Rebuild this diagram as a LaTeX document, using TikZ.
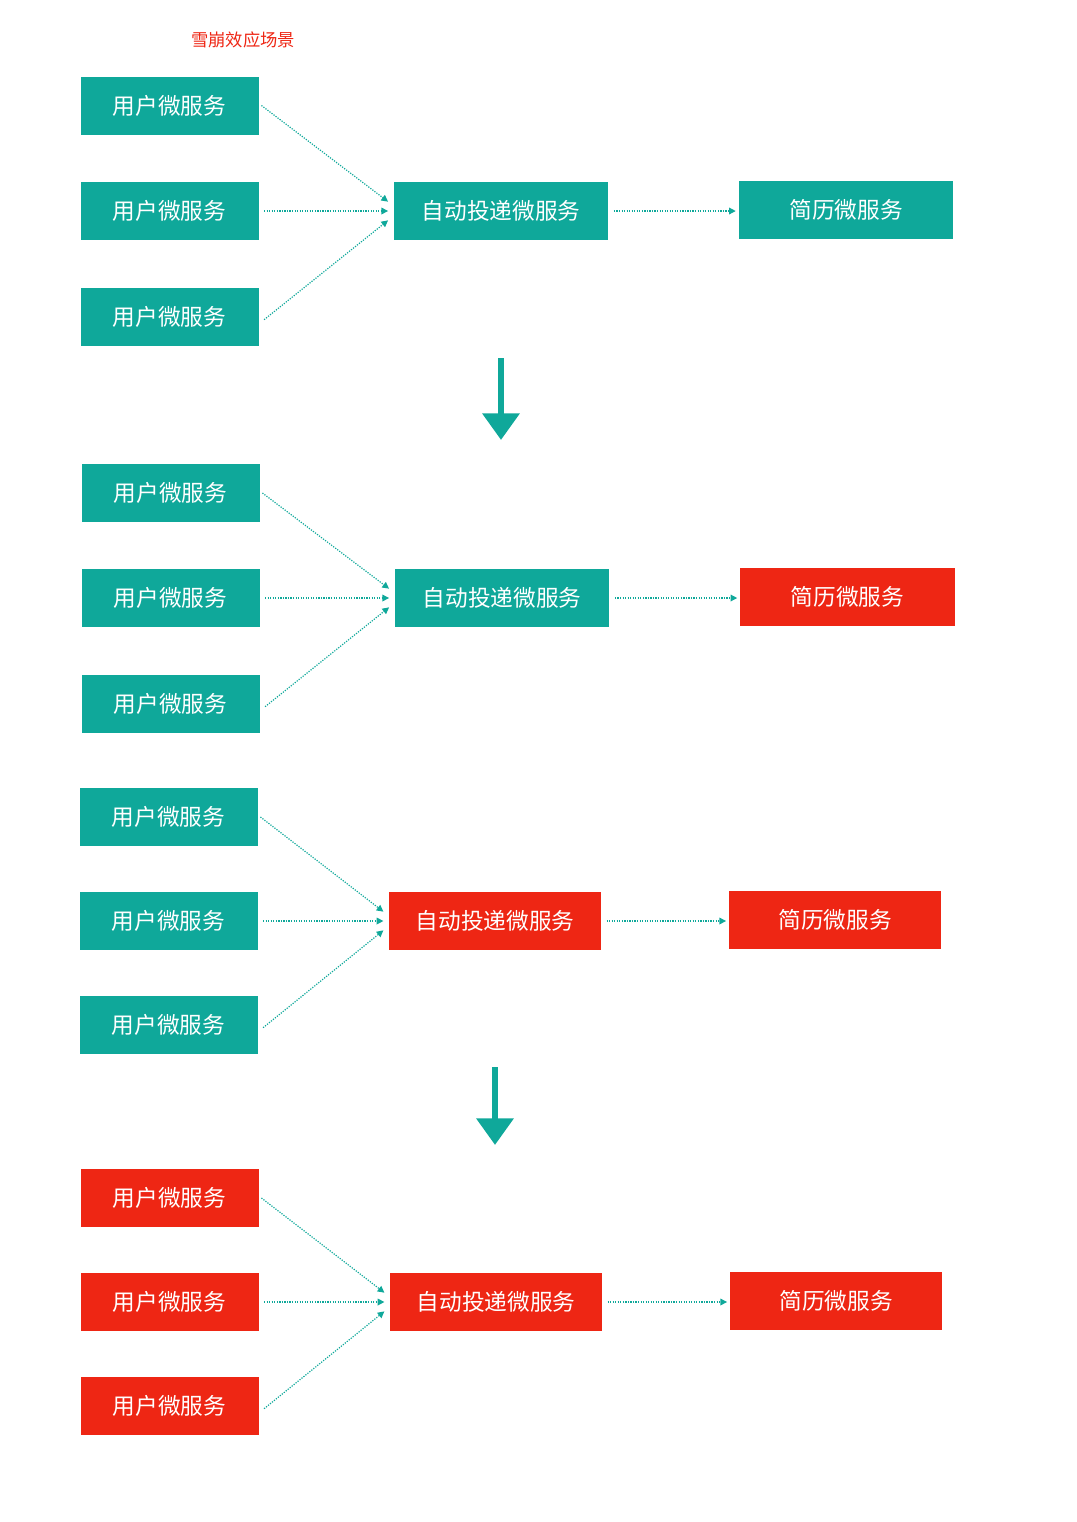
\documentclass[tikz,border=0pt]{standalone}
\usepackage{fontspec}
\setmainfont{Noto Sans CJK SC}
\usetikzlibrary{arrows.meta}
\definecolor{tl}{HTML}{0FA89A}
\definecolor{rd}{HTML}{EE2614}
\begin{document}
\begin{tikzpicture}[x=0.75pt,y=-0.75pt,
 b/.style={fill=#1,text=white,font=\fontsize{17}{17}\selectfont,minimum height=43.5pt,inner sep=0pt},
 u/.style={b=#1,minimum width=133.5pt},
 w/.style={b=#1,minimum width=161pt},
 conn/.style={tl,densely dotted,line width=0.9pt,-{Triangle[width=5pt,length=5pt]}},
 down/.style={tl,line width=5pt,-{Triangle[width=27pt,length=20pt]}}]
\useasboundingbox (0,0) rectangle (1076,1522);
\node[text=rd,font=\fontsize{13}{13}\selectfont] (t) at (243,40) {雪崩效应场景};
% group 1
\node[u=tl] (a1) at (169.5,105.5) {用户微服务};
\node[u=tl] (a2) at (169.5,211) {用户微服务};
\node[u=tl] (a3) at (169.5,317) {用户微服务};
\node[w=tl] (aa) at (501,211) {自动投递微服务};
\node[w=tl] (ar) at (846,210) {简历微服务};
% group 2
\node[u=tl] (b1) at (170.5,493) {用户微服务};
\node[u=tl] (b2) at (170.5,598) {用户微服务};
\node[u=tl] (b3) at (170.5,704) {用户微服务};
\node[w=tl] (ba) at (502,598) {自动投递微服务};
\node[w=rd] (br) at (847.5,597) {简历微服务};
% group 3
\node[u=tl] (c1) at (168.5,817) {用户微服务};
\node[u=tl] (c2) at (168.5,921) {用户微服务};
\node[u=tl] (c3) at (168.5,1025) {用户微服务};
\node[w=rd,minimum width=159pt] (ca) at (495,921) {自动投递微服务};
\node[w=rd,minimum width=159pt] (cr) at (835,920) {简历微服务};
% group 4
\node[u=rd] (d1) at (169.5,1198) {用户微服务};
\node[u=rd] (d2) at (169.5,1302) {用户微服务};
\node[u=rd] (d3) at (169.5,1406) {用户微服务};
\node[w=rd,minimum width=159pt] (da) at (496,1302) {自动投递微服务};
\node[w=rd,minimum width=159pt] (dr) at (836,1301) {简历微服务};
% connectors
\foreach \g in {a,b,c,d}{
 \draw[conn] ([xshift=2pt,yshift=0pt]\g1.east) -- ([xshift=-4pt,yshift=7pt]\g a.west);
 \draw[conn] ([xshift=4pt]\g2.east) -- ([xshift=-4pt]\g2.east -| \g a.west);
 \draw[conn] ([xshift=4pt,yshift=-2pt]\g3.east) -- ([xshift=-4pt,yshift=-7pt]\g a.west);
 \draw[conn] ([xshift=4pt]\g a.east) -- ([xshift=-2pt]\g a.east -| \g r.west);
}
\coordinate (s1) at (501,358); \coordinate (e1) at (501,440);
\draw[down] (s1) -- (e1);
\coordinate (s2) at (495,1067); \coordinate (e2) at (495,1145);
\draw[down] (s2) -- (e2);
\end{tikzpicture}
\end{document}
